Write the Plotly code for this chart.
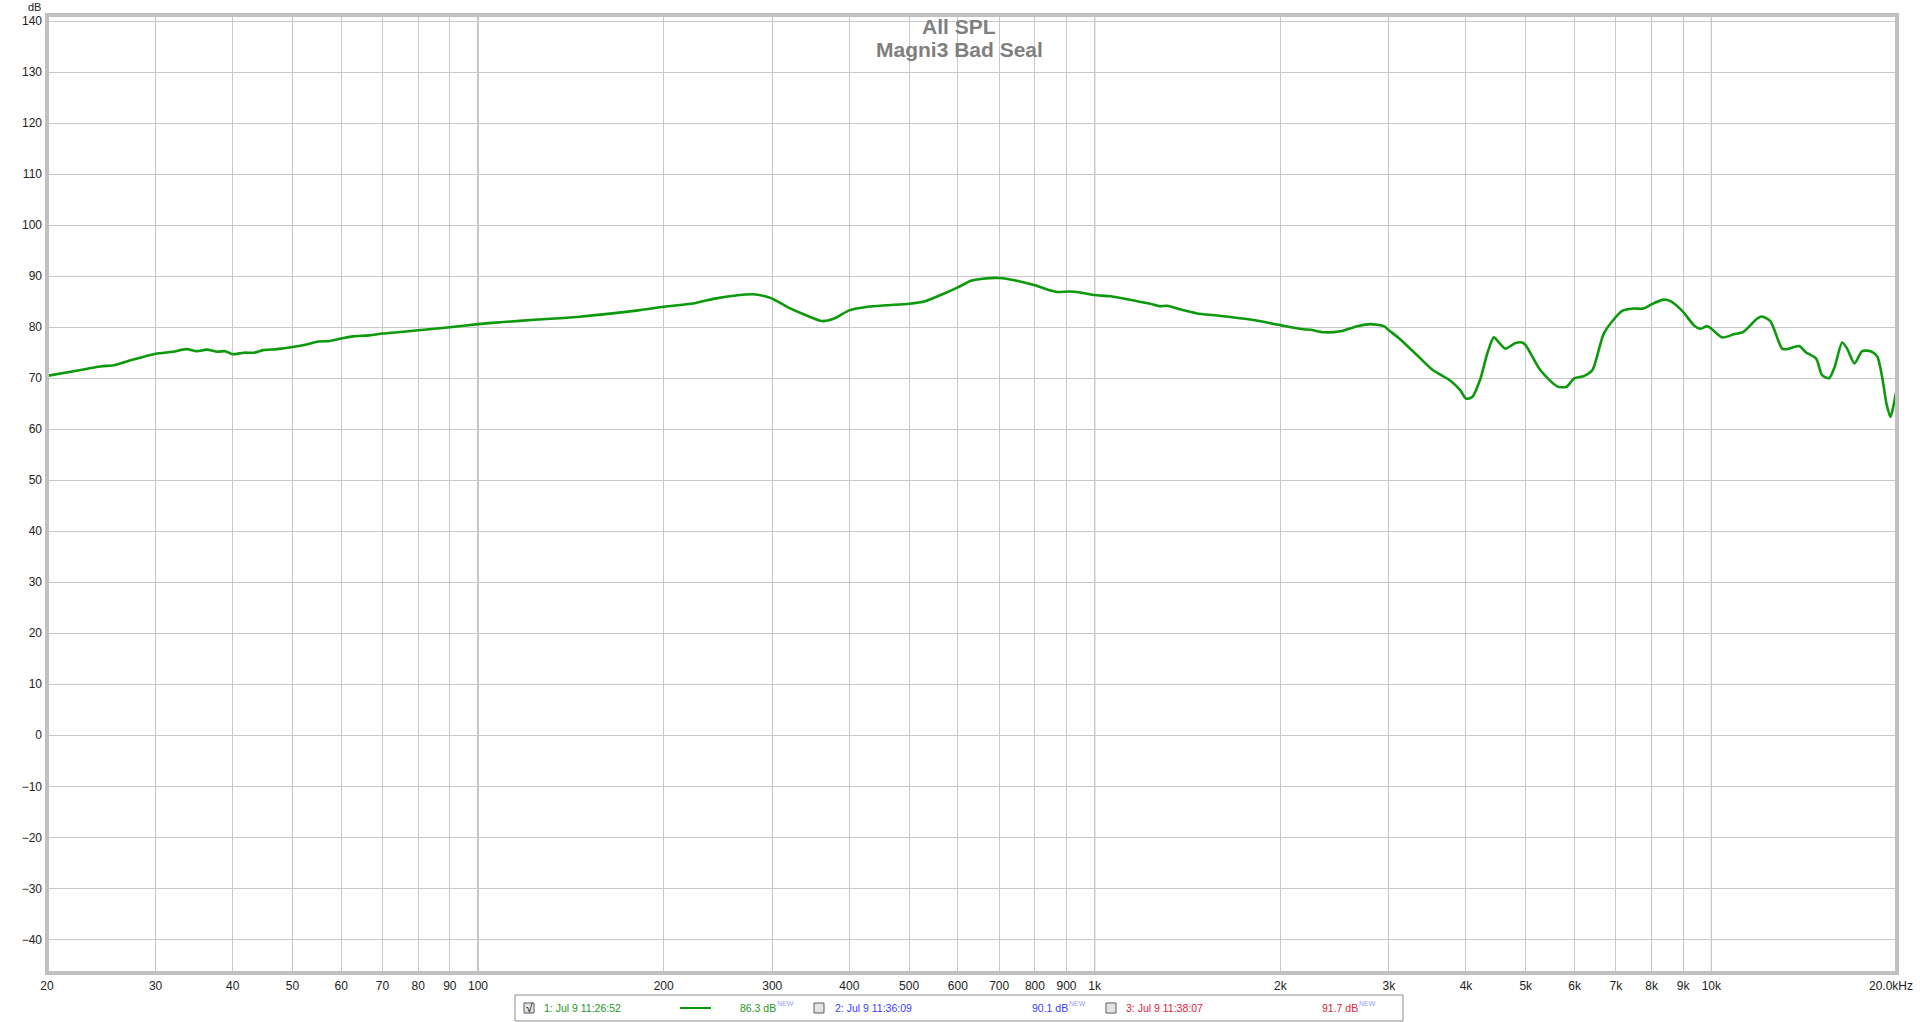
import math
import plotly.graph_objects as go

# ---------------- data ----------------
freq_hz = [20, 22.2, 24.4, 25.8, 27.6, 30, 32, 33.7, 35, 36.3, 37.8, 38.9, 40, 41.7, 43.3, 44.8,
           47.2, 50, 52.7, 55.1, 57.5, 60, 62.8, 66.6, 70, 75.7, 80, 90, 100, 108.7, 125, 144.6,
           181.9, 200, 225.5, 242, 263.7, 279, 291, 300, 317, 341, 361, 378, 400, 428.6, 460,
           500, 531, 570, 600, 630, 658, 700, 748, 800, 848, 870, 910, 948, 1000, 1061, 1172,
           1231, 1276, 1310, 1394, 1466, 1580, 1789, 2000, 2183, 2240, 2353, 2503, 2665, 2800,
           2943, 3000, 3131, 3333, 3525, 3775, 3918, 4000, 4093, 4222, 4330, 4438, 4520, 4634,
           4812, 4932, 5000, 5283, 5623, 5815, 6000, 6214, 6411, 6692, 7000, 7168, 7482, 7757,
           8000, 8373, 8585, 9000, 9366, 9600, 9845, 10000, 10413, 10874, 11275, 11867, 12080,
           12465, 13023, 13270, 13887, 14225, 14790, 15116, 15520, 15845, 16298, 16600, 17060,
           17560, 18120, 18570, 18920, 19230, 19520, 19770, 20000]
spl_db = [70.45, 71.4, 72.3, 72.6, 73.65, 74.8, 75.2, 75.7, 75.3, 75.6, 75.2, 75.3, 74.7, 75.0, 75.0, 75.5,
          75.7, 76.1, 76.6, 77.2, 77.3, 77.8, 78.2, 78.4, 78.75, 79.1, 79.4, 80.0, 80.6, 80.96, 81.5, 82.0,
          83.3, 84.0, 84.75, 85.6, 86.25, 86.45, 86.1, 85.6, 84.0, 82.3, 81.2, 81.7, 83.3, 84.0, 84.3,
          84.6, 85.1, 86.6, 87.8, 89.1, 89.5, 89.65, 89.1, 88.2, 87.2, 86.9, 87.0, 86.8, 86.3, 86.05, 85.1,
          84.6, 84.1, 84.2, 83.3, 82.7, 82.3, 81.5, 80.4, 79.6, 79.5, 79.0, 79.2, 80.2, 80.6,
          80.2, 79.4, 77.6, 74.5, 71.7, 69.5, 67.6, 66.0, 66.3, 69.9, 74.8, 78.0, 77.05, 75.8,
          76.9, 77.0, 76.45, 71.55, 68.4, 68.3, 70.0, 70.4, 71.55, 78.75, 82.0, 83.2, 83.65, 83.65,
          84.5, 85.4, 85.1, 83.0, 80.4, 79.7, 80.2, 79.7, 78.0, 78.6, 79.1, 81.7, 82.1,
          81.2, 75.8, 75.7, 76.3, 75.1, 73.85, 70.6, 70.0, 72.2, 77.0, 75.8, 72.9,
          75.3, 75.3, 74.3, 70.25, 65.0, 62.4, 65.0, 68.2]

x_tick_vals = [20, 30, 40, 50, 60, 70, 80, 90, 100, 200, 300, 400, 500, 600, 700, 800, 900,
               1000, 2000, 3000, 4000, 5000, 6000, 7000, 8000, 9000, 10000]
x_tick_text = ["20", "30", "40", "50", "60", "70", "80", "90", "100", "200", "300", "400", "500",
               "600", "700", "800", "900", "1k", "2k", "3k", "4k", "5k", "6k", "7k", "8k", "9k",
               "10k"]
x_end_label = "20.0kHz"
y_tick_vals = list(range(-40, 141, 10))
decade_lines = [100, 1000, 10000]

title_lines = ["All SPL", "Magni3 Bad Seal"]
legend_names = ["1: Jul 9 11:26:52", "2: Jul 9 11:36:09", "3: Jul 9 11:38:07"]
legend_levels = ["86.3 dB", "90.1 dB", "91.7 dB"]
legend_colors = ["#1e961e", "#3b3bff", "#e3203c"]
legend_checked = [True, False, False]

# ---------------- layout geometry ----------------
W, H = 1920, 1022
L, R, T, B = 47, 1897, 15, 973
PW, PH = R - L, B - T


def px(x):
    return (x - L) / PW


def py(y):
    return (B - y) / PH


FONT = "Liberation Sans, Arial, sans-serif"
LINE_GREEN = "#0c990c"
TICK_FONT = dict(family=FONT, size=12, color="#222222")

fig = go.Figure()
fig.add_trace(go.Scatter(
    x=freq_hz, y=spl_db, mode="lines",
    line=dict(color=LINE_GREEN, width=2.6, shape="spline", smoothing=0.7),
    hoverinfo="skip", showlegend=False,
))

shapes = []
for d in decade_lines:
    shapes.append(dict(type="line", xref="x", yref="paper", x0=d, x1=d, y0=0, y1=1,
                       line=dict(color="#858585", width=1), layer="below"))
# plot frame
shapes.append(dict(type="rect", xref="paper", yref="paper", x0=0, x1=1, y0=0, y1=1,
                   line=dict(color="#c0c0c0", width=4), layer="above"))

annotations = []
# title
for i, t in enumerate(title_lines):
    annotations.append(dict(text="<b>%s</b>" % t, xref="paper", yref="paper",
                            x=px(959), y=py(26 + i * 23.5), xanchor="center", yanchor="middle",
                            showarrow=False, font=dict(family=FONT, size=21, color="#7f7f7f")))
# dB unit label
annotations.append(dict(text="dB", xref="paper", yref="paper", x=px(34), y=py(7),
                        xanchor="center", yanchor="middle", showarrow=False,
                        font=dict(family=FONT, size=11, color="#222222")))
# last x label (kept inside the figure like in the reference)
annotations.append(dict(text=x_end_label, xref="paper", yref="paper", x=px(1891), y=py(986),
                        xanchor="center", yanchor="middle", showarrow=False, font=TICK_FONT))

# legend box at the bottom
ly = 1008
shapes.append(dict(type="rect", xref="paper", yref="paper", x0=px(515), x1=px(1403),
                   y0=py(1021), y1=py(995), line=dict(color="#8c8c8c", width=1),
                   fillcolor="white", layer="above"))
box_x = [529, 819, 1111]
name_x = [542, 833, 1124]
level_x = [738, 1030, 1320]
for i in range(3):
    shapes.append(dict(type="rect", xref="paper", yref="paper",
                       x0=px(box_x[i] - 5), x1=px(box_x[i] + 5), y0=py(ly + 5), y1=py(ly - 5),
                       line=dict(color="#5a5a5a", width=1), fillcolor="#e4e4e4", layer="above"))
    if legend_checked[i]:
        annotations.append(dict(text="√", xref="paper", yref="paper", x=px(box_x[i]), y=py(ly),
                                xanchor="center", yanchor="middle", showarrow=False,
                                font=dict(family=FONT, size=12, color="#111111")))
    annotations.append(dict(text=legend_names[i], xref="paper", yref="paper", x=px(name_x[i]),
                            y=py(ly), xanchor="left", yanchor="middle", showarrow=False,
                            font=dict(family=FONT, size=10.5, color=legend_colors[i])))
    annotations.append(dict(text=legend_levels[i], xref="paper", yref="paper", x=px(level_x[i]),
                            y=py(ly), xanchor="left", yanchor="middle", showarrow=False,
                            font=dict(family=FONT, size=10.5, color=legend_colors[i])))
    annotations.append(dict(text="NEW", xref="paper", yref="paper", x=px(level_x[i] + 37),
                            y=py(ly - 5), xanchor="left", yanchor="middle", showarrow=False,
                            font=dict(family=FONT, size=7, color="#9a9aff")))
shapes.append(dict(type="line", xref="paper", yref="paper", x0=px(680), x1=px(711),
                   y0=py(ly), y1=py(ly), line=dict(color=LINE_GREEN, width=2), layer="above"))

fig.update_layout(
    width=W, height=H, autosize=False,
    margin=dict(l=L, r=W - R, t=T, b=H - B, pad=0, autoexpand=False),
    paper_bgcolor="white", plot_bgcolor="white",
    showlegend=False,
    shapes=shapes, annotations=annotations,
    xaxis=dict(type="log", range=[math.log10(20), math.log10(20000)],
               tickvals=x_tick_vals, ticktext=x_tick_text, showgrid=True, automargin=False,
               gridcolor="#c8c8c8", gridwidth=1, zeroline=False, showline=False,
               ticks="", ticklabelstandoff=4, tickfont=TICK_FONT),
    yaxis=dict(range=[-46.6, 141.2], tickvals=y_tick_vals, showgrid=True, automargin=False,
               gridcolor="#c8c8c8", gridwidth=1, zeroline=False, showline=False,
               ticks="", ticklabelstandoff=4, tickfont=TICK_FONT),
)

fig.write_html(
    "out.html",
    config={"displayModeBar": False},
    post_script="document.body.style.margin='0';document.body.style.overflow='hidden';",
)
